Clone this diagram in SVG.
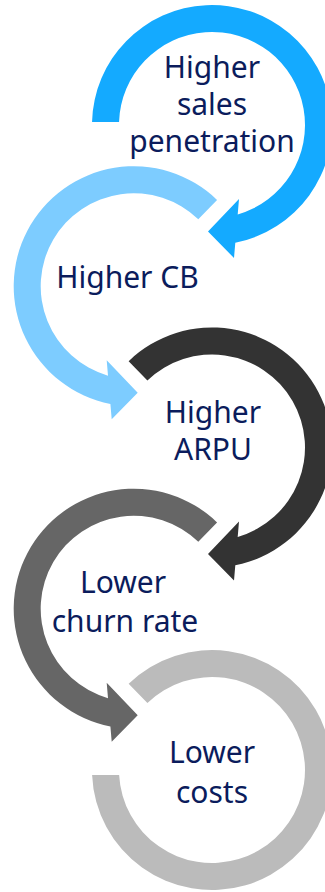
<svg xmlns="http://www.w3.org/2000/svg" width="325" height="892" viewBox="0 0 325 892">
<style>
  .lbl { font-family: "Noto Sans", "Open Sans", "Liberation Sans", sans-serif; font-size: 30px; fill: #0B1C5C; text-anchor: middle; }
</style>
<rect width="325" height="892" fill="#FFFFFF"/>
<g id="connectors">
  <path id="arrow1" fill="#14AAFF" d="M 92.04 122 A 120 120 0 1 1 235.3 242.72 L 234 258 L 208 231.5 L 239 199 L 237.7 214.38 A 93 93 0 1 0 119.05 122 Z"/>
  <path id="arrow2" fill="#7DCCFF" d="M 217.06 199.93 A 120 120 0 1 0 110.4 403.97 L 111.7 419.25 L 137.7 392.75 L 106.7 360.25 L 108.0 375.63 A 93 93 0 1 1 198.30 219.35 Z"/>
  <path id="arrow3" fill="#333333" d="M 128.64 361.18 A 120 120 0 1 1 235.3 565.22 L 234 580.5 L 208 554 L 239 521.5 L 237.7 536.88 A 93 93 0 1 0 147.40 380.60 Z"/>
  <path id="arrow4" fill="#666666" d="M 217.06 522.43 A 120 120 0 1 0 110.4 726.47 L 111.7 741.75 L 137.7 715.25 L 106.7 682.75 L 108.0 698.13 A 93 93 0 1 1 198.30 541.85 Z"/>
  <path id="arc5" fill="#BBBBBB" d="M 128.64 683.68 A 120 120 0 1 1 92.10 775 L 119.13 775 A 93 93 0 1 0 147.40 703.10 Z"/>
</g>
<g id="node1">
  <text class="lbl" x="212" y="78">Higher</text>
  <text class="lbl" x="212" y="115">sales</text>
  <text class="lbl" x="212" y="152">penetration</text>
</g>
<g id="node2">
  <text class="lbl" x="127.5" y="288">Higher CB</text>
</g>
<g id="node3">
  <text class="lbl" x="213" y="423">Higher</text>
  <text class="lbl" x="213" y="460">ARPU</text>
</g>
<g id="node4">
  <text class="lbl" x="123" y="593">Lower</text>
  <text class="lbl" x="125" y="631.5">churn rate</text>
</g>
<g id="node5">
  <text class="lbl" x="212" y="763">Lower</text>
  <text class="lbl" x="212" y="803">costs</text>
</g>
</svg>
